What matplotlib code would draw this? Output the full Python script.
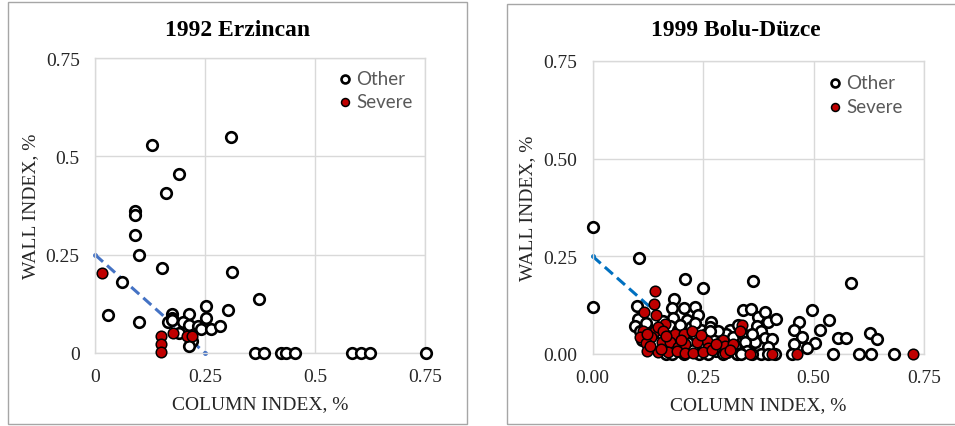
import matplotlib.pyplot as plt
from matplotlib.patches import Rectangle

# 1992 Erzincan
erz_other_x = [0.130, 0.310, 0.190, 0.162, 0.092, 0.092, 0.092, 0.100, 0.152, 0.311,
               0.061, 0.030, 0.100, 0.373, 0.252, 0.303, 0.175, 0.175, 0.165, 0.176,
               0.213, 0.252, 0.200, 0.213, 0.233, 0.240, 0.263, 0.284, 0.190, 0.221,
               0.213, 0.364, 0.383, 0.423, 0.433, 0.455, 0.585, 0.605, 0.624, 0.752]
erz_other_y = [0.530, 0.550, 0.455, 0.408, 0.360, 0.351, 0.299, 0.249, 0.217, 0.207,
               0.180, 0.097, 0.079, 0.138, 0.119, 0.110, 0.098, 0.090, 0.080, 0.085,
               0.098, 0.089, 0.080, 0.070, 0.069, 0.060, 0.060, 0.069, 0.050, 0.030,
               0.018, 0.000, 0.000, 0.000, 0.000, 0.000, 0.000, 0.000, 0.000, 0.000]
erz_severe_x = [0.017, 0.150, 0.150, 0.150, 0.178, 0.208, 0.220]
erz_severe_y = [0.203, 0.042, 0.023, 0.002, 0.052, 0.042, 0.042]

# 1999 Bolu-Duzce
bd_other_x = [0.000, 0.000, 0.105, 0.208, 0.250, 0.362, 0.584,
              0.497, 0.535, 0.467, 0.515, 0.455, 0.474, 0.504, 0.485, 0.455, 0.555, 0.574, 0.627, 0.644,
              0.452, 0.545, 0.603, 0.629, 0.683,
              0.100, 0.185, 0.179, 0.207, 0.231, 0.239, 0.341, 0.358, 0.181, 0.214,
              0.103, 0.096, 0.268, 0.375, 0.390, 0.397, 0.416, 0.371, 0.381, 0.390,
              0.407, 0.367, 0.396, 0.382, 0.397, 0.412, 0.310, 0.302, 0.318, 0.294,
              0.322, 0.286, 0.303, 0.326,
              0.107, 0.118, 0.128, 0.135, 0.150, 0.158, 0.163, 0.165, 0.170, 0.176,
              0.180, 0.186, 0.192, 0.196, 0.200, 0.206, 0.212, 0.218, 0.222, 0.228,
              0.234, 0.240, 0.245, 0.250, 0.256, 0.262, 0.266, 0.272, 0.278, 0.283,
              0.290, 0.296, 0.265, 0.232, 0.198, 0.160, 0.120, 0.112, 0.140, 0.175,
              0.330, 0.338, 0.345, 0.350, 0.360, 0.335, 0.360]
bd_other_y = [0.326, 0.120, 0.246, 0.193, 0.170, 0.187, 0.183,
              0.113, 0.086, 0.083, 0.061, 0.061, 0.043, 0.029, 0.016, 0.026, 0.042, 0.042, 0.054, 0.038,
              0.000, 0.000, 0.000, 0.000, 0.000,
              0.124, 0.142, 0.117, 0.118, 0.121, 0.100, 0.113, 0.114, 0.092, 0.087,
              0.090, 0.072, 0.083, 0.094, 0.108, 0.081, 0.090, 0.072, 0.060, 0.041,
              0.038, 0.030, 0.017, 0.000, 0.000, 0.000, 0.061, 0.051, 0.043, 0.034,
              0.021, 0.013, 0.004, 0.000,
              0.060, 0.070, 0.062, 0.050, 0.066, 0.040, 0.012, 0.000, 0.058, 0.072,
              0.000, 0.036, 0.061, 0.008, 0.044, 0.000, 0.056, 0.028, 0.070, 0.010,
              0.046, 0.000, 0.062, 0.025, 0.050, 0.000, 0.070, 0.040, 0.008, 0.058,
              0.030, 0.000, 0.058, 0.080, 0.075, 0.085, 0.080, 0.035, 0.030, 0.020,
              0.075, 0.055, 0.030, 0.008, 0.050, 0.000, 0.000]
bd_severe_x = [0.141, 0.138, 0.116, 0.143, 0.164, 0.337, 0.333, 0.114, 0.141, 0.148,
               0.108, 0.133, 0.186, 0.207, 0.224, 0.295, 0.120, 0.156, 0.175, 0.194,
               0.209, 0.258, 0.262, 0.299, 0.318, 0.122, 0.148, 0.171, 0.190, 0.209,
               0.228, 0.250, 0.271, 0.299, 0.356, 0.407, 0.463, 0.724, 0.160, 0.124,
               0.130, 0.165, 0.200, 0.235, 0.280, 0.310, 0.245, 0.155]
bd_severe_y = [0.160, 0.128, 0.108, 0.100, 0.076, 0.075, 0.058, 0.058, 0.058, 0.068,
               0.044, 0.043, 0.052, 0.052, 0.058, 0.035, 0.028, 0.030, 0.030, 0.019,
               0.026, 0.034, 0.015, 0.021, 0.026, 0.008, 0.006, 0.004, 0.008, 0.002,
               0.003, 0.004, 0.010, 0.003, 0.000, 0.000, 0.000, 0.000, 0.060, 0.050,
               0.020, 0.045, 0.035, 0.030, 0.025, 0.010, 0.048, 0.012]

limit_x = [0.0, 0.25]
limit_y = [0.25, 0.0]

serif = 'Liberation Serif'
grid_c = '#D9D9D9'

fig = plt.figure(figsize=(9.55, 4.27), dpi=100)

# panel frames
fig.patches.append(Rectangle((8 / 955, 2 / 427), 459 / 955, 422 / 427, transform=fig.transFigure,
                             fill=False, edgecolor='#A6A6A6', linewidth=1.0))
fig.patches.append(Rectangle((507 / 955, 2 / 427), 460 / 955, 420 / 427, transform=fig.transFigure,
                             fill=False, edgecolor='#A6A6A6', linewidth=1.0))


def draw_panel(rect, title, title_x, ox, oy, sx, sy, xlabels, ylabels, line_color, leg_anchor):
    ax = fig.add_axes(rect)
    ax.plot(limit_x, limit_y, color=line_color, linewidth=2.2, dashes=(3.5, 1.8),
            marker='o', markersize=2.5, zorder=2, clip_on=False)
    ax.scatter(ox, oy, s=58, facecolor='white', edgecolor='black', linewidth=1.9,
               label='Other', zorder=3, clip_on=False)
    ax.scatter(sx, sy, s=58, facecolor='#C00000', edgecolor='black', linewidth=1.1,
               label='Severe', zorder=4, clip_on=False)
    ax.set_xlim(0, 0.75)
    ax.set_ylim(0, 0.75)
    ticks = [0, 0.25, 0.5, 0.75]
    ax.set_xticks(ticks)
    ax.set_yticks(ticks)
    ax.set_xticklabels(xlabels, fontfamily=serif, fontsize=14)
    ax.set_yticklabels(ylabels, fontfamily=serif, fontsize=14)
    ax.tick_params(length=0, pad=11, colors='#262626')
    ax.grid(True, color=grid_c, linewidth=1.0)
    ax.set_axisbelow(True)
    for sp in ax.spines.values():
        sp.set_color(grid_c)
        sp.set_linewidth(1.0)
    ax.set_xlabel('COLUMN INDEX, %', fontfamily=serif, fontsize=14, labelpad=7, color='#262626')
    ax.set_ylabel('WALL INDEX, %', fontfamily=serif, fontsize=14, labelpad=5, color='#262626')
    ax.legend(loc='upper left', bbox_to_anchor=leg_anchor, frameon=False,
              prop={'family': 'Lato', 'size': 13.5}, labelcolor='#595959',
              handlelength=0.6, handletextpad=0.3, borderpad=0, borderaxespad=0,
              labelspacing=0.35, markerscale=0.75)
    fig.text(title_x, 1 - 30 / 427, title, ha='center', va='center',
             fontfamily=serif, fontweight='bold', fontsize=17)
    return ax


draw_panel([95 / 955, 73 / 427, 330 / 955, 295 / 427], '1992 Erzincan', 237.5 / 955,
           erz_other_x, erz_other_y, erz_severe_x, erz_severe_y,
           ['0', '0.25', '0.5', '0.75'], ['0', '0.25', '0.5', '0.75'],
           '#4472C4', (0.74, 0.96))
draw_panel([592.7 / 955, 72 / 427, 331.3 / 955, 293 / 427], '1999 Bolu-Düzce', 736 / 955,
           bd_other_x, bd_other_y, bd_severe_x, bd_severe_y,
           ['0.00', '0.25', '0.50', '0.75'], ['0.00', '0.25', '0.50', '0.75'],
           '#0070C0', (0.715, 0.955))

plt.savefig('out.png', dpi=100)
